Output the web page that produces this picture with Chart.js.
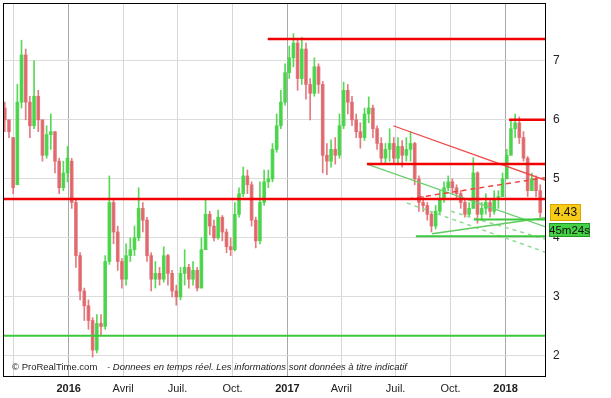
<!DOCTYPE html>
<html>
<head>
<meta charset="utf-8">
<script src="https://cdn.jsdelivr.net/npm/chart.js@4.4.1/dist/chart.umd.min.js"></script>
<style>
    html, body { margin: 0; padding: 0; background: #fff; }
    #wrap { width: 611px; height: 398px; position: relative; }
</style>
</head>
<body>
<div id="wrap"><canvas id="chart"></canvas></div>
<script>
// Weekly candles, day 0 = 1 Jan 2016
const firstDay = -107;
const opens  = [6.2,6.0,5.7,4.9,6.3,7.1,6.3,5.9,6.4,6.0, 5.4,5.75,5.8,5.3,4.85,5.1,5.3,4.6,3.7,3.1, 2.85,2.6,2.1,2.55,2.5,3.6,4.6,4.1,3.6,3.3, 3.7,3.8,4.0,4.5,4.3,3.7,3.3,3.4,3.3,3.7, 3.4,3.1,3.0,3.4,3.5,3.3,3.45,3.15,3.8,4.4, 4.2,4.0,4.35,4.1,3.85,3.8,4.4,4.75,5.05,4.9, 4.3,3.95,4.6,4.95,5.0,5.5,5.9,6.3,6.8,7.05, 7.3,6.7,7.2,6.6,6.45,6.9,6.6,5.4,5.3,5.5, 5.4,5.9,6.5,6.3,6.0,5.8,5.7,6.1,6.2,5.85, 5.6,5.35,5.5,5.6,5.35,5.55,5.4,5.5,5.6,5.0, 4.6,4.55,4.4,4.2,4.45,4.65,4.85,4.95,4.85,4.75, 4.6,4.4,4.5,5.1,4.4,4.5,4.6,4.45,4.65,4.7, 5.0,5.4,5.85,5.95,5.7,5.35,4.8,5.0,4.8];
const highs  = [6.3,6.0,5.7,6.6,7.35,7.2,6.4,7.0,6.5,6.0, 5.9,6.1,5.8,5.35,5.3,5.55,5.35,4.65,3.75,3.15, 2.95,2.65,2.7,2.7,3.7,5.05,4.65,4.2,3.65,3.9, 4.0,4.2,4.85,4.6,4.35,3.75,3.6,3.5,3.85,3.72, 3.45,3.2,3.5,3.8,3.55,3.6,3.5,4.0,4.65,4.45, 4.3,4.47,4.38,4.15,4.0,4.6,4.85,5.2,5.15,4.95, 4.35,4.95,5.15,5.15,5.6,6.1,6.5,6.95,7.25,7.46, 7.35,7.4,7.3,6.7,7.05,6.95,6.65,5.6,5.66,5.7, 6.1,6.64,6.6,6.4,6.1,5.95,6.2,6.39,6.25,5.9, 5.7,5.6,5.85,5.7,5.7,5.65,5.7,5.8,5.62,5.05, 4.7,4.6,4.45,4.55,4.8,4.95,5.05,5.0,4.9,4.8, 4.65,4.6,5.36,5.12,4.6,4.75,4.65,4.8,4.8,5.1, 5.5,6.0,6.1,6.05,5.8,5.38,5.1,5.05,4.9];
const lows   = [5.8,5.7,4.75,4.9,6.2,6.0,5.7,5.85,5.8,5.3, 5.35,5.5,5.1,4.75,4.8,4.95,4.5,3.5,2.95,2.6, 2.45,1.98,2.05,2.35,2.45,3.55,3.9,3.45,3.15,3.2, 3.6,3.7,3.95,4.1,3.6,3.1,3.15,3.2,3.25,3.2, 3.0,2.86,2.95,3.2,3.15,3.2,3.1,3.15,3.8,4.05, 3.95,3.98,3.95,3.75,3.7,3.78,4.35,4.7,4.75,4.2, 3.83,3.9,4.55,4.85,4.95,5.45,5.85,6.25,6.7,6.9, 6.5,6.6,6.35,6.0,6.4,6.45,5.1,5.07,5.2,5.25, 5.35,5.85,6.1,5.9,5.7,5.52,5.65,5.95,5.7,5.5, 5.27,5.25,5.3,5.25,5.25,5.2,5.3,5.3,4.9,4.45, 4.45,4.3,4.1,4.15,4.4,4.6,4.8,4.75,4.65,4.5, 4.35,4.35,4.5,4.25,4.3,4.4,4.35,4.4,4.5,4.7, 5.0,5.4,5.7,5.6,5.3,4.7,4.8,4.7,4.35];
const closes = [6.0,5.8,4.85,6.3,7.1,6.3,5.9,6.4,6.0,5.4, 5.75,5.8,5.3,4.85,5.1,5.35,4.6,3.7,3.1,2.85, 2.6,2.1,2.55,2.5,3.6,4.6,4.1,3.6,3.3,3.7, 3.8,4.0,4.5,4.3,3.7,3.3,3.4,3.3,3.7,3.4, 3.1,3.0,3.4,3.5,3.3,3.45,3.15,3.8,4.4,4.2, 4.0,4.35,4.1,3.85,3.8,4.4,4.75,5.05,4.9,4.3, 3.95,4.6,4.95,5.0,5.5,5.9,6.3,6.8,7.05,7.3, 6.7,7.2,6.6,6.45,6.9,6.6,5.4,5.3,5.5,5.4, 5.9,6.5,6.3,6.0,5.8,5.7,6.1,6.2,5.85,5.6, 5.35,5.5,5.6,5.35,5.55,5.4,5.5,5.6,5.0,4.6, 4.55,4.4,4.2,4.45,4.65,4.85,4.95,4.85,4.75,4.6, 4.4,4.5,5.1,4.4,4.5,4.6,4.45,4.65,4.7,5.0, 5.4,5.85,5.95,5.7,5.35,4.8,5.0,4.8,4.43];

// Axis ticks
const quarterDays = [-92, 0, 91, 182, 274, 366, 456, 547, 639, 731];
const quarterLabels = ['', '2016', 'Avril', 'Juil.', 'Oct.', '2017', 'Avril', 'Juil.', 'Oct.', '2018'];
const priceTicks = [2, 3, 4, 5, 6, 7];

// Drawn support / resistance lines: [startDay, endDay, price]
const redLevels = [[333, 797, 7.37], [737, 797, 6.0], [499, 797, 5.25], [-110, 797, 4.66]];
const greenLevels = [[678, 797, 4.31], [581, 797, 4.03], [-110, 797, 2.34]];
// Trend lines: [[day, price], [day, price]]
const redTrend = [[543, 5.9], [797, 4.98]];
const redDashed = [[568, 4.66], [797, 5.02]];
const greenTrendDown = [[499, 5.25], [797, 4.19]];
const greenTrendUp = [[608, 4.07], [797, 4.34]];
const greenDashed1 = [[566, 4.59], [797, 3.76]];
const greenDashed2 = [[640, 4.45], [797, 3.98]];

const lastPrice = 4.43;
const timerText = '45m24s';

const UP = 'rgba(70, 212, 70, 0.9)';
const DOWN = 'rgba(222, 100, 104, 0.85)';

const days = closes.map((c, i) => firstDay + 7 * i);
const candleColors = closes.map((c, i) => c >= opens[i] ? UP : DOWN);
const isYear = v => (quarterLabels[quarterDays.indexOf(v)] || '').startsWith('20');

function segment(points, color, width, dash) {
    return {
        type: 'line',
        data: points.map(p => ({ x: p[0], y: p[1] })),
        borderColor: color,
        borderWidth: width,
        borderDash: dash || [],
        pointRadius: 0,
        fill: false,
        tension: 0,
        order: 0
    };
}

const lineSets = [];
redLevels.forEach(l => lineSets.push(segment([[l[0], l[2]], [l[1], l[2]]], '#f20000', 2.5)));
greenLevels.forEach(l => lineSets.push(segment([[l[0], l[2]], [l[1], l[2]]], '#3cc83c', 2)));
lineSets.push(segment(redTrend, '#f04848', 1.3));
lineSets.push(segment(redDashed, '#f04040', 1.5, [5, 4]));
lineSets.push(segment(greenTrendDown, '#6ccf6c', 1.3));
lineSets.push(segment(greenTrendUp, '#5ccc5c', 1.5));
lineSets.push(segment(greenDashed1, '#90db90', 1.5, [4, 4]));
lineSets.push(segment(greenDashed2, '#90db90', 1.5, [4, 4]));

// Frame, footer text and the price / timer boxes
const overlay = {
    id: 'overlay',
    afterDraw(chart) {
        const ctx = chart.ctx;
        const area = chart.chartArea;
        const y = chart.scales.y;
        ctx.save();
        ctx.strokeStyle = '#000';
        ctx.lineWidth = 1;
        ctx.strokeRect(area.left + 0.5, area.top + 0.5, area.right - area.left, area.bottom - area.top);

        ctx.fillStyle = '#222';
        ctx.textBaseline = 'middle';
        ctx.textAlign = 'left';
        ctx.font = '9.5px "Liberation Sans", Arial, sans-serif';
        ctx.fillText('\u00a9 ProRealTime.com', area.left + 9, area.bottom - 9);
        ctx.font = 'italic 9.5px "Liberation Sans", Arial, sans-serif';
        ctx.fillText('- Donnees en temps r\u00e9el. Les informations sont donn\u00e9es \u00e0 titre indicatif', area.left + 104, area.bottom - 9);

        const py = Math.round(y.getPixelForValue(lastPrice));
        ctx.fillStyle = '#f7cb17';
        ctx.strokeStyle = '#d9a400';
        ctx.fillRect(area.right + 5, py - 9, 31, 17);
        ctx.strokeRect(area.right + 5.5, py - 8.5, 30, 16);
        ctx.fillStyle = '#111';
        ctx.textAlign = 'center';
        ctx.font = '12px "Liberation Sans", Arial, sans-serif';
        ctx.fillText(lastPrice.toFixed(2), area.right + 20.5, py);

        ctx.fillStyle = '#45d045';
        ctx.strokeStyle = '#229922';
        ctx.fillRect(area.right + 4, py + 10, 41, 14);
        ctx.strokeRect(area.right + 4.5, py + 10.5, 40, 13);
        ctx.fillStyle = '#111';
        ctx.font = '11.5px "Liberation Sans", Arial, sans-serif';
        ctx.fillText(timerText, area.right + 24.5, py + 17.5);
        ctx.restore();
    }
};

new Chart(document.getElementById('chart'), {
    type: 'bar',
    data: {
        datasets: [
            ...lineSets,
            {
                // wicks
                data: days.map((d, i) => ({ x: d, y: [lows[i], highs[i]] })),
                backgroundColor: candleColors,
                barThickness: 1,
                grouped: false,
                order: 2
            },
            {
                // bodies
                data: days.map((d, i) => ({ x: d, y: [opens[i], closes[i]] })),
                backgroundColor: candleColors,
                barThickness: 3,
                minBarLength: 1,
                grouped: false,
                order: 1
            }
        ]
    },
    options: {
        responsive: true,
        maintainAspectRatio: false,
        animation: false,
        devicePixelRatio: 1,
        layout: { padding: { left: 3, top: 3, right: 0, bottom: 0 } },
        plugins: {
            legend: { display: false },
            tooltip: { enabled: false }
        },
        scales: {
            x: {
                type: 'linear',
                min: -110,
                max: 797,
                offset: false,
                afterBuildTicks: scale => { scale.ticks = quarterDays.map(v => ({ value: v })); },
                afterFit: scale => {
                    scale.height = 22;
                    scale.paddingLeft = 0;
                    scale.paddingRight = 0;
                },
                grid: {
                    offset: false,
                    drawTicks: false,
                    color: ctx => (ctx.tick && isYear(ctx.tick.value)) ? '#a8a8a8' : '#d6d6d6'
                },
                border: { color: '#000' },
                ticks: {
                    autoSkip: false,
                    maxRotation: 0,
                    padding: 6,
                    color: '#222',
                    font: ctx => ({
                        family: '"Liberation Sans", Arial, sans-serif',
                        size: 11,
                        weight: (ctx.tick && isYear(ctx.tick.value)) ? 'bold' : 'normal'
                    }),
                    callback: value => quarterLabels[quarterDays.indexOf(value)] || ''
                }
            },
            y: {
                position: 'right',
                min: 1.66,
                max: 7.98,
                afterBuildTicks: scale => { scale.ticks = priceTicks.map(v => ({ value: v })); },
                afterFit: scale => {
                    scale.width = 66;
                    scale.paddingTop = 0;
                    scale.paddingBottom = 0;
                },
                grid: { drawTicks: false, color: '#dcdcdc' },
                border: { color: '#000' },
                ticks: {
                    padding: 8,
                    color: '#222',
                    font: { family: '"Liberation Sans", Arial, sans-serif', size: 12 }
                }
            }
        }
    },
    plugins: [overlay]
});
</script>
</body>
</html>
